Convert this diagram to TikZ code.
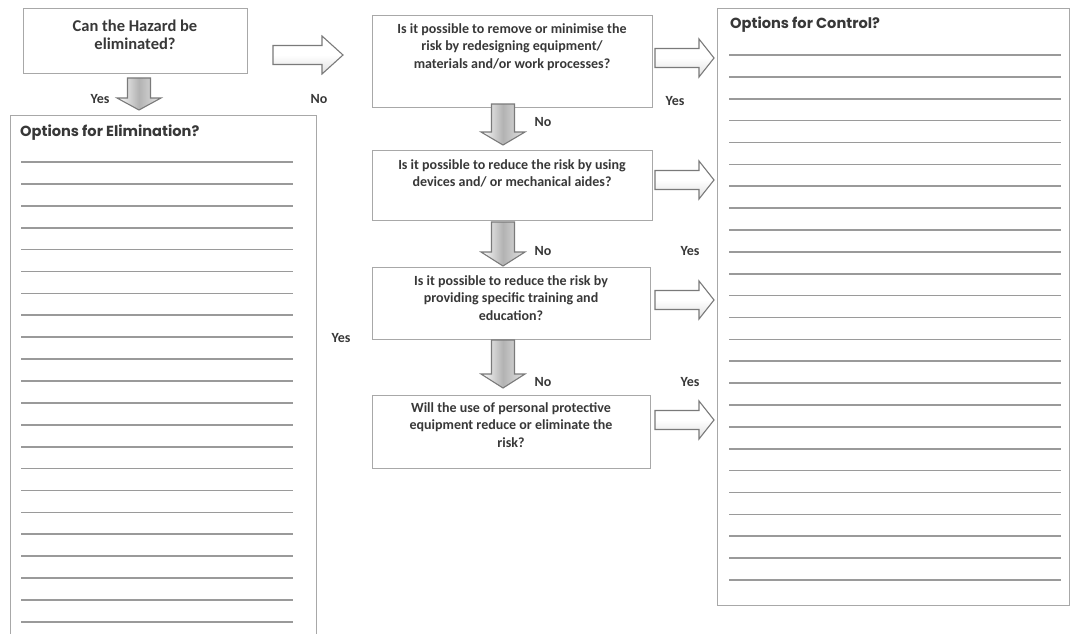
\documentclass[tikz,border=0pt]{standalone}
\usepackage{fontspec}
\setmainfont{Carlito}
\newfontfamily\titlefont{Poppins}
\definecolor{bordergray}{HTML}{A8A8A8}
\definecolor{linegray}{HTML}{9A9A9A}
\definecolor{textgray}{HTML}{383838}
\definecolor{arrowgray}{HTML}{7A7A7A}
\begin{document}
\begin{tikzpicture}[x=1pt,y=-1pt,
  box/.style={draw=bordergray, line width=1.3pt, fill=white, inner sep=0pt, anchor=north west},
  qtext/.style={font=\bfseries\fontsize{14}{17.5}\selectfont, text=textgray, align=center, anchor=north, inner sep=0pt},
  lbl/.style={font=\bfseries\fontsize{14}{16}\selectfont, text=textgray, inner sep=0pt},
  ruled/.style={draw=linegray, line width=1.7pt},
  boxtitle/.style={font=\titlefont\bfseries\fontsize{14.6}{17}\selectfont, text=textgray, anchor=west, inner sep=0pt},
  pics/darr/.style n args={2}{code={
    \shadedraw[draw=arrowgray, line width=1.1pt, line join=miter, left color=white, right color=gray!20, middle color=gray!60]
      (-11.5,0) -- (11.5,0) -- (11.5,#1) -- (22,#1) -- (0,#2) -- (-22,#1) -- (-11.5,#1) -- cycle;
  }},
  pics/rarr/.style n args={2}{code={
    \shadedraw[draw=arrowgray, line width=1.1pt, line join=miter, top color=white, bottom color=gray!25, middle color=white]
      (0,-9.5) -- (#1,-9.5) -- (#1,-19) -- (#2,0) -- (#1,19) -- (#1,9.5) -- (0,9.5) -- cycle;
  }}
]
\useasboundingbox[fill=white] (0,0) rectangle (1071,634);
\clip (0,0) rectangle (1071,634);

% boxes
\node[box, minimum width=224pt, minimum height=65pt] (e0) at (23,8) {};
\node[box, minimum width=306pt, minimum height=560pt] (elim) at (10,115) {};
\node[box, minimum width=280pt, minimum height=92pt] (b1) at (372,15) {};
\node[box, minimum width=280pt, minimum height=70pt] (b2) at (372,150) {};
\node[box, minimum width=278pt, minimum height=72pt] (b3) at (372,267) {};
\node[box, minimum width=278pt, minimum height=73pt] (b4) at (372,395) {};
\node[box, minimum width=352pt, minimum height=597pt] (ctrl) at (717,8) {};

% texts
\node[qtext, font=\bfseries\fontsize{16.5}{17.5}\selectfont] (t0) at (135,20) {Can the Hazard be\\eliminated?};
\node[qtext] (t1) at (512,23) {Is it possible to remove or minimise the\\risk by redesigning equipment/\\materials and/or work processes?};
\node[qtext] (t2) at (512,159) {Is it possible to reduce the risk by using\\devices and/ or mechanical aides?};
\node[qtext] (t3) at (511,275) {Is it possible to reduce the risk by\\providing specific training and\\education?};
\node[qtext] (t4) at (511,402) {Will the use of personal protective\\equipment reduce or eliminate the\\risk?};

\node[boxtitle] (elimtitle) at (20,133) {Options for Elimination?};
\node[boxtitle] (ctrltitle) at (730,25) {Options for Control?};

% ruled lines
\foreach \i in {0,...,21} \draw[ruled] (21,{162+21.9*\i}) -- (293,{162+21.9*\i});
\foreach \i in {0,...,24} \draw[ruled] (729,{55+21.875*\i}) -- (1061,{55+21.875*\i});

% block arrows
\pic at (139,78) {darr={20}{32}};
\pic at (503,104) {darr={28}{41}};
\pic at (503,222) {darr={30}{44}};
\pic at (503,340) {darr={34}{48}};
\pic at (273,55) {rarr={49}{70}};
\pic at (655,58) {rarr={44}{59}};
\pic at (655,180) {rarr={44}{59}};
\pic at (655,300) {rarr={44}{59}};
\pic at (655,420) {rarr={44}{59}};

% labels
\node[lbl] (y0) at (100,99) {Yes};
\node[lbl] (n0) at (319,99) {No};
\node[lbl] (n1) at (543,122) {No};
\node[lbl] (y1) at (675,101) {Yes};
\node[lbl] (n2) at (543,251) {No};
\node[lbl] (y2) at (690,251) {Yes};
\node[lbl] (y3) at (341,338) {Yes};
\node[lbl] (n3) at (543,382) {No};
\node[lbl] (y4) at (690,382) {Yes};
\end{tikzpicture}
\end{document}
